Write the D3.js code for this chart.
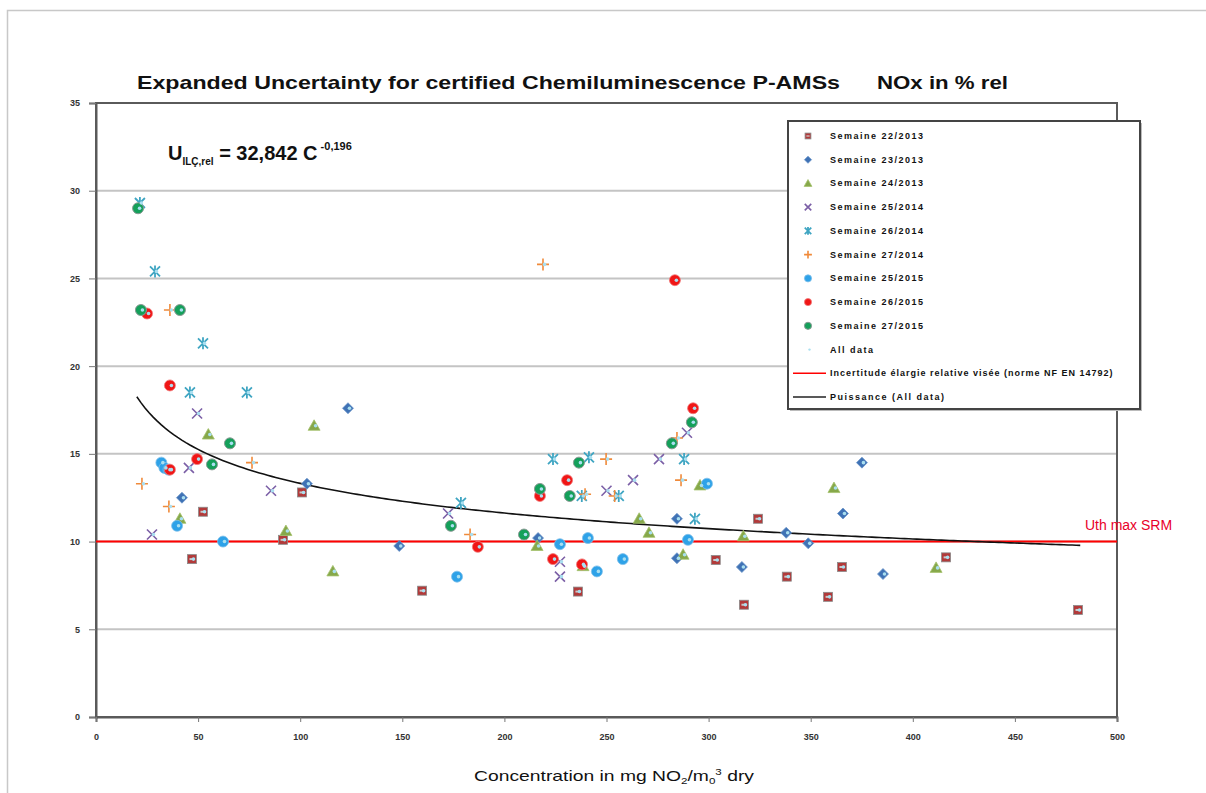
<!DOCTYPE html>
<html lang="en">
<head>
<meta charset="UTF-8">
<title>Expanded Uncertainty NOx</title>
<script src="https://d3js.org/d3.v7.min.js"></script>
<style>
  body { margin: 0; background: #fff; }
  svg text { font-family: "Liberation Sans", Arial, sans-serif; }
  .tick text { font-size: 9px; font-weight: bold; fill: #333; }
  .legend text { font-size: 9px; font-weight: bold; letter-spacing: 1.5px; fill: #111; }
</style>
</head>
<body>
<script>
// ---- data ----
const xTicks = [0, 50, 100, 150, 200, 250, 300, 350, 400, 450, 500];
const yTicks = [0, 5, 10, 15, 20, 25, 30, 35];

const s22_2013 = [[91.6,10.1],[100.9,12.8],[52.4,11.7],[47.0,9.0],[159.7,7.2],[236,7.15],[303.5,8.95],
  [324.2,11.3],[317.3,6.4],[338.3,8.0],[358.5,6.85],[365.3,8.55],[416.3,9.1],[480.9,6.1]];
const s23_2013 = [[42.1,12.5],[103.3,13.3],[123.4,17.6],[148.5,9.75],[216.5,10.2],[284.5,11.3],[284.5,9.05],
  [316.3,8.55],[338,10.5],[348.8,9.9],[365.8,11.6],[375.1,14.5],[385.4,8.15]];
const s24_2013 = [[41.1,11.3],[55,16.1],[93,10.6],[106.8,16.6],[116,8.3],[216,9.75],[238.5,8.6],[266,11.3],
  [270.8,10.5],[287.5,9.25],[295.8,13.2],[317,10.3],[361.4,13.05],[411.4,8.5]];
const s25_2014 = [[27.4,10.4],[45.5,14.2],[49.5,17.3],[85.7,12.9],[172.4,11.6],[227.2,8.85],[227.2,8.0],
  [250,12.9],[263,13.5],[275.7,14.7],[289.4,16.2]];
const s26_2014 = [[21.5,29.3],[28.9,25.4],[46,18.5],[52.4,21.3],[73.9,18.5],[178.7,12.2],[223.8,14.7],
  [237.9,12.6],[241.4,14.8],[256,12.6],[288,14.7],[293.3,11.3]];
const s27_2014 = [[22.5,13.3],[35.7,12.0],[36.2,23.2],[76.4,14.5],[183.2,10.4],[218.9,25.8],[239.5,12.7],
  [249.8,14.7],[254,12.6],[284.5,15.9],[286.5,13.5]];
const s25_2015 = [[32,14.5],[33.5,14.2],[35.5,14.1],[39.7,10.9],[62.2,10.0],[176.8,8.0],[227.2,9.85],
  [240.9,10.2],[245.3,8.3],[258,9.0],[289.9,10.1],[299.2,13.3]];
const s26_2015 = [[25,23.0],[36.2,18.9],[36.2,14.1],[49.5,14.7],[187,9.7],[217.4,12.6],[223.8,9.0],
  [230.7,13.5],[238,8.7],[283.5,24.9],[292.4,17.6]];
const s27_2015 = [[20.6,29.0],[22.0,23.2],[41.1,23.2],[56.8,14.4],[65.6,15.6],[173.8,10.9],[209.6,10.4],
  [217.4,13.0],[232,12.6],[236.5,14.5],[282,15.6],[291.8,16.8]];

const seriesNames = ["Semaine 22/2013","Semaine 23/2013","Semaine 24/2013","Semaine 25/2014","Semaine 26/2014",
  "Semaine 27/2014","Semaine 25/2015","Semaine 26/2015","Semaine 27/2015"];
const seriesData = [s22_2013, s23_2013, s24_2013, s25_2014, s26_2014, s27_2014, s25_2015, s26_2015, s27_2015];
const allData = seriesData.flat();

const uthMax = 10;               // target relative uncertainty (NF EN 14792)
const trendCoef = [32.842, -0.196];  // U = a * C^b
const trendRange = [20, 482];

// ---- layout ----
const W = 1206, H = 793;
const plot = { left: 96, top: 103, right: 1117, bottom: 717 };

const svg = d3.select("body").append("svg").attr("width", W).attr("height", H);

svg.append("rect").attr("x", 7.5).attr("y", 10.5).attr("width", W).attr("height", H)
  .attr("fill", "#fff").attr("stroke", "#c8c8c8").attr("stroke-width", 1.5);

const x = d3.scaleLinear().domain([0, 500]).range([plot.left, plot.right]);
const y = d3.scaleLinear().domain([0, 35]).range([plot.bottom, plot.top]);

// gridlines
svg.append("g").selectAll("line").data(yTicks.filter(v => v > 0 && v < 35)).join("line")
  .attr("x1", plot.left).attr("x2", plot.right)
  .attr("y1", d => y(d)).attr("y2", d => y(d))
  .attr("stroke", "#c4c4c4").attr("stroke-width", 2);

// plot frame
svg.append("rect").attr("x", plot.left).attr("y", plot.top)
  .attr("width", plot.right - plot.left).attr("height", plot.bottom - plot.top)
  .attr("fill", "none").attr("stroke", "#5a5a5a").attr("stroke-width", 2);

// axes
const yAxis = svg.append("g").attr("transform", `translate(${plot.left},0)`)
  .call(d3.axisLeft(y).tickValues(yTicks).tickSize(7).tickPadding(9).tickFormat(d3.format("d")));
const xAxis = svg.append("g").attr("transform", `translate(0,${plot.bottom})`)
  .call(d3.axisBottom(x).tickValues(xTicks).tickSize(5).tickPadding(12).tickFormat(d3.format("d")));
[yAxis, xAxis].forEach(a => {
  a.select(".domain").attr("stroke", "#5a5a5a").attr("stroke-width", 2);
  a.selectAll(".tick line").attr("stroke", "#777");
});

// target line
svg.append("line").attr("x1", plot.left).attr("x2", plot.right)
  .attr("y1", y(uthMax)).attr("y2", y(uthMax))
  .attr("stroke", "#ff0000").attr("stroke-width", 2);
svg.append("text").attr("x", 1085).attr("y", 530).attr("fill", "#e8002a")
  .attr("font-size", 14).text("Uth max SRM");

// trend line (power fit shown on the chart)
const trendPts = d3.range(trendRange[0], trendRange[1] + 0.5, 2).map(c => [c, trendCoef[0] * Math.pow(c, trendCoef[1])]);
svg.append("path").datum(trendPts)
  .attr("d", d3.line().x(d => x(d[0])).y(d => y(d[1])))
  .attr("fill", "none").attr("stroke", "#111").attr("stroke-width", 1.6);

// ---- markers ----
function drawMarker(g, type, s) {
  switch (type) {
    case "square":
      g.append("rect").attr("x", -4.5*s).attr("y", -4.5*s).attr("width", 9*s).attr("height", 9*s)
        .attr("fill", "#b23a3a").attr("stroke", "#8a8a8a").attr("stroke-width", 0.8);
      g.append("rect").attr("x", -2.5*s).attr("y", -1*s).attr("width", 5*s).attr("height", 2*s).attr("fill", "#c9c9c9");
      break;
    case "diamond":
      g.append("path").attr("d", `M0,${-5.5*s}L${5.5*s},0L0,${5.5*s}L${-5.5*s},0Z`).attr("fill", "#3f72b5")
        .attr("stroke", "#6c95c9").attr("stroke-width", 0.8);
      break;
    case "triangle":
      g.append("path").attr("d", `M0,${-6*s}L${6*s},${4.5*s}L${-6*s},${4.5*s}Z`).attr("fill", "#86a84a")
        .attr("stroke", "#a5c26c").attr("stroke-width", 0.8);
      break;
    case "x":
      g.append("path").attr("d", `M${-5*s},${-5*s}L${5*s},${5*s}M${-5*s},${5*s}L${5*s},${-5*s}`)
        .attr("stroke", "#7b5fa6").attr("stroke-width", 1.6).attr("fill", "none");
      break;
    case "star":
      g.append("path").attr("d", `M${-5*s},${-5*s}L${5*s},${5*s}M${-5*s},${5*s}L${5*s},${-5*s}M0,${-6*s}L0,${6*s}`)
        .attr("stroke", "#3fa5c2").attr("stroke-width", 1.8).attr("fill", "none");
      break;
    case "plus":
      g.append("path").attr("d", `M${-6*s},0L${6*s},0M0,${-6*s}L0,${6*s}`)
        .attr("stroke", "#f08a3a").attr("stroke-width", 1.6).attr("fill", "none");
      break;
    case "circleBlue":
      g.append("circle").attr("r", 5.5*s).attr("fill", "#2ea2e8").attr("stroke", "#7fbfea").attr("stroke-width", 0.8);
      break;
    case "circleRed":
      g.append("circle").attr("r", 5.5*s).attr("fill", "#f01616").attr("stroke", "#f07a7a").attr("stroke-width", 0.8);
      break;
    case "circleGreen":
      g.append("circle").attr("r", 5.5*s).attr("fill", "#14a05a").attr("stroke", "#8a9a94").attr("stroke-width", 1);
      break;
    case "dot":
      g.append("circle").attr("r", 1.8*s).attr("cx", 1.5).attr("fill", "#a9dff0");
      break;
  }
}
const markerTypes = ["square","diamond","triangle","x","star","plus","circleBlue","circleRed","circleGreen"];

seriesData.forEach((data, i) => {
  svg.append("g").selectAll("g").data(data).join("g")
    .attr("transform", d => `translate(${x(d[0])},${y(d[1])})`)
    .each(function () { drawMarker(d3.select(this), markerTypes[i], 1); });
});
// "All data" series overlaid on everything
svg.append("g").selectAll("g").data(allData).join("g")
  .attr("transform", d => `translate(${x(d[0])},${y(d[1])})`)
  .each(function () { drawMarker(d3.select(this), "dot", 1); });

// ---- legend ----
const legend = svg.append("g").attr("class", "legend");
legend.append("rect").attr("x", 790).attr("y", 123).attr("width", 352).attr("height", 288).attr("fill", "#bbb");
legend.append("rect").attr("x", 788).attr("y", 121).attr("width", 352).attr("height", 288)
  .attr("fill", "#fff").attr("stroke", "#444").attr("stroke-width", 2);
const legendItems = seriesNames.map((n, i) => ({ name: n, type: markerTypes[i] }))
  .concat([{ name: "All data", type: "dot" },
           { name: "Incertitude élargie relative visée (norme NF EN 14792)", type: "lineRed" },
           { name: "Puissance (All data)", type: "lineBlack" }]);
const legendY = d3.scalePoint().domain(d3.range(legendItems.length)).range([136, 397]);
legendItems.forEach((it, i) => {
  const g = legend.append("g").attr("transform", `translate(808,${legendY(i)})`);
  if (it.type === "lineRed" || it.type === "lineBlack") {
    g.append("line").attr("x1", -15).attr("x2", 18).attr("stroke", it.type === "lineRed" ? "#ff0000" : "#222").attr("stroke-width", 1.6);
  } else {
    drawMarker(g, it.type, 0.65);
  }
  const t = legend.append("text").attr("x", 830).attr("y", legendY(i) + 3).text(it.name);
  if (it.type === "lineRed") t.style("letter-spacing", "1px");
});

// ---- titles ----
svg.append("text").attr("x", 137).attr("y", 89).attr("font-size", 19).attr("font-weight", "bold")
  .attr("textLength", 703).attr("lengthAdjust", "spacingAndGlyphs").attr("fill", "#111")
  .text("Expanded Uncertainty for certified Chemiluminescence P-AMSs");
svg.append("text").attr("x", 877).attr("y", 89).attr("font-size", 19).attr("font-weight", "bold")
  .attr("textLength", 131).attr("lengthAdjust", "spacingAndGlyphs").attr("fill", "#111")
  .text("NOx in % rel");

const eq = svg.append("text").attr("x", 168).attr("y", 160).attr("font-size", 20).attr("font-weight", "bold").attr("fill", "#111");
eq.append("tspan").text("U");
eq.append("tspan").attr("font-size", 10).attr("dy", 5).text("ILÇ,rel");
eq.append("tspan").attr("dy", -5).text(" = 32,842 C");
eq.append("tspan").attr("font-size", 11).attr("dy", -10).text(" -0,196");

const xt = svg.append("text").attr("x", 474).attr("y", 781).attr("font-size", 15).attr("fill", "#111")
  .attr("textLength", 280).attr("lengthAdjust", "spacingAndGlyphs");
xt.append("tspan").text("Concentration in mg NO");
xt.append("tspan").attr("font-size", 9).attr("dy", 3).text("2");
xt.append("tspan").attr("dy", -3).text("/m");
xt.append("tspan").attr("font-size", 9).attr("dy", 3).text("0");
xt.append("tspan").attr("font-size", 9).attr("dy", -9).text("3");
xt.append("tspan").attr("dy", 6).text(" dry");
</script>
</body>
</html>
